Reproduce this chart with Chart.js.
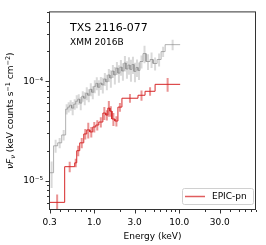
<!DOCTYPE html>
<html><head><meta charset="utf-8">
<script src="https://cdn.jsdelivr.net/npm/chart.js@4.4.0/dist/chart.umd.min.js"></script>
<style>html,body{margin:0;padding:0;background:#fff;overflow:hidden}</style>
</head><body>
<canvas id="c" width="266" height="245"></canvas>
<script>
// ---- data (energies in keV, nuFnu in keV counts s^-1 cm^-2) ----
const grayEdges = [0.300,0.334,0.373,0.416,0.463,0.489,0.516,0.545,0.576,0.608,0.642,0.678,0.716,0.756,0.798,0.843,0.890,0.939,0.992,1.047,1.106,1.168,1.233,1.302,1.374,1.451,1.532,1.618,1.708,1.804,1.905,2.011,2.123,2.242,2.367,2.500,2.639,2.787,2.942,3.107,3.280,3.464,3.758,4.077,4.546,4.932,5.500,6.132,6.835,10.27];
const grayFlux = [1.20e-5,2.24e-5,2.40e-5,2.88e-5,5.25e-5,5.50e-5,5.75e-5,5.37e-5,5.89e-5,6.31e-5,6.61e-5,6.03e-5,7.08e-5,6.76e-5,7.59e-5,7.24e-5,8.32e-5,7.76e-5,8.91e-5,9.55e-5,8.71e-5,9.6e-5,9.2e-5,1.056e-4,9.9e-5,1.16e-4,1.08e-4,1.27e-4,1.16e-4,1.36e-4,1.21e-4,1.39e-4,1.27e-4,1.53e-4,1.33e-4,1.46e-4,1.32e-4,1.479e-4,1.259e-4,1.380e-4,1.288e-4,1.585e-4,1.905e-4,1.585e-4,1.660e-4,1.514e-4,1.660e-4,1.995e-4,2.344e-4];
const grayErr = [0.3,0.15,0.12,0.12,0.12,0.12,0.12,0.15,0.12,0.15,0.12,0.15,0.12,0.15,0.15,0.15,0.15,0.15,0.15,0.15,0.18,0.15,0.18,0.15,0.18,0.15,0.2,0.15,0.2,0.15,0.2,0.18,0.2,0.18,0.2,0.2,0.25,0.2,0.22,0.2,0.2,0.15,0.2,0.18,0.18,0.15,0.15,0.12,0.12];

const redEdges = [0.300,0.451,0.592,0.625,0.678,0.756,0.820,0.890,0.965,1.047,1.136,1.267,1.374,1.451,1.532,1.618,1.755,1.905,2.124,3.28,3.97,5.21,10.27];
const redFlux = [6.03e-6,1.38e-5,1.51e-5,2.00e-5,2.40e-5,2.95e-5,3.24e-5,3.09e-5,3.47e-5,3.63e-5,3.89e-5,4.79e-5,4.57e-5,5.37e-5,5.01e-5,4.17e-5,3.98e-5,5.50e-5,6.76e-5,7.24e-5,7.94e-5,9.33e-5];
const redErr = [0.2,0.12,0.1,0.12,0.12,0.12,0.18,0.12,0.12,0.12,0.12,0.15,0.12,0.18,0.12,0.15,0.12,0.1,0.1,0.12,0.1,0.16];

const xMajorTicks = [0.3,1,3,10,30];
const xTickLabels = ['0.3','1.0','3.0','10.0','30.0'];
const xMinorTicks = [0.4,0.5,0.6,0.7,0.8,0.9,2,4,5,6,7,8,9,20,40,50,60,70,80];
const yMajorTicks = [1e-5,1e-4];
const yTickLabels = ['10\u207B\u2075','10\u207B\u2074'];
const yMinorTicks = [6e-6,7e-6,8e-6,9e-6,2e-5,3e-5,4e-5,5e-5,6e-5,7e-5,8e-5,9e-5,2e-4,3e-4,4e-4,5e-4];

const xRange = [0.295, 80];
const yRange = [5.05e-6, 5.07e-4];
const titleText = 'TXS 2116-077';
const subtitleText = 'XMM 2016B';
const legendText = 'EPIC-pn';
const xLabel = 'Energy (keV)';

function steps(edges, flux){
  const pts=[];
  for(let i=0;i<flux.length;i++){pts.push({x:edges[i],y:flux[i]});pts.push({x:edges[i+1],y:flux[i]});}
  return pts;
}

const FONT='"DejaVu Sans", sans-serif';
const RED='#d62728';

const errPlugin = {
  id:'errs',
  beforeDatasetsDraw(chart){
    const {ctx, scales:{x,y}, chartArea:a} = chart;
    ctx.save();
    ctx.beginPath(); ctx.rect(a.left,a.top,a.right-a.left,a.bottom-a.top); ctx.clip();
    const draw=(edges,flux,err,col)=>{
      ctx.strokeStyle=col; ctx.lineWidth=2;
      for(let i=0;i<flux.length;i++){
        const xc = x.getPixelForValue(Math.sqrt(edges[i]*edges[i+1]));
        ctx.beginPath();
        ctx.moveTo(xc, y.getPixelForValue(flux[i]*(1+err[i])));
        ctx.lineTo(xc, y.getPixelForValue(flux[i]*(1-err[i])));
        ctx.stroke();
      }
    };
    draw(grayEdges,grayFlux,grayErr,'rgba(160,160,160,0.4)');
    draw(redEdges,redFlux,redErr,'rgba(214,39,40,0.5)');
    ctx.restore();
  }
};

const framePlugin = {
  id:'frame',
  afterDraw(chart){
    const {ctx, scales:{x,y}, chartArea:a} = chart;
    ctx.save();
    ctx.strokeStyle='#333'; ctx.lineWidth=1;
    ctx.strokeRect(a.left+0.5,a.top+0.5,a.right-a.left-1,a.bottom-a.top-1);
    ctx.beginPath();
    const xt=(v,len)=>{const p=Math.round(x.getPixelForValue(v))+0.5; ctx.moveTo(p,a.bottom); ctx.lineTo(p,a.bottom+len);};
    const yt=(v,len)=>{const p=Math.round(y.getPixelForValue(v))+0.5; ctx.moveTo(a.left,p); ctx.lineTo(a.left-len,p);};
    xMajorTicks.forEach(v=>xt(v,3.5)); xMinorTicks.forEach(v=>xt(v,2));
    yMajorTicks.forEach(v=>yt(v,3.5)); yMinorTicks.forEach(v=>yt(v,2));
    ctx.stroke();
    // texts
    ctx.fillStyle='#000'; ctx.textBaseline='alphabetic'; ctx.textAlign='left';
    ctx.font='11px '+FONT; ctx.fillText(titleText,70,31);
    ctx.font='9px '+FONT; ctx.fillText(subtitleText,70,44.5);
    ctx.textAlign='center'; ctx.font='9px '+FONT;
    ctx.fillText(xLabel,(a.left+a.right)/2,239);
    // y label with sub/superscripts
    const parts=[
      {t:'\u03BDF',f:'italic 9px '+FONT,dy:0},
      {t:'\u03BD',f:'italic 6.5px '+FONT,dy:2},
      {t:' (keV counts s',f:'9px '+FONT,dy:0},
      {t:'\u22121',f:'6.5px '+FONT,dy:-3.5},
      {t:' cm',f:'9px '+FONT,dy:0},
      {t:'\u22122',f:'6.5px '+FONT,dy:-3.5},
      {t:')',f:'9px '+FONT,dy:0}
    ];
    let w=0; parts.forEach(p=>{ctx.font=p.f; p.w=ctx.measureText(p.t).width; w+=p.w;});
    ctx.translate(13,(a.top+a.bottom)/2); ctx.rotate(-Math.PI/2);
    ctx.textAlign='left';
    let cx=-w/2; parts.forEach(p=>{ctx.font=p.f; ctx.fillText(p.t,cx,p.dy); cx+=p.w;});
    ctx.setTransform(1,0,0,1,0,0);
    // legend
    const lx=182.5, ly=188.5, lw=71, lh=16, r=2;
    ctx.beginPath();
    ctx.moveTo(lx+r,ly); ctx.lineTo(lx+lw-r,ly); ctx.quadraticCurveTo(lx+lw,ly,lx+lw,ly+r);
    ctx.lineTo(lx+lw,ly+lh-r); ctx.quadraticCurveTo(lx+lw,ly+lh,lx+lw-r,ly+lh);
    ctx.lineTo(lx+r,ly+lh); ctx.quadraticCurveTo(lx,ly+lh,lx,ly+lh-r);
    ctx.lineTo(lx,ly+r); ctx.quadraticCurveTo(lx,ly,lx+r,ly); ctx.closePath();
    ctx.fillStyle='rgba(255,255,255,0.85)'; ctx.fill();
    ctx.strokeStyle='#d0d0d0'; ctx.lineWidth=1; ctx.stroke();
    ctx.beginPath(); ctx.moveTo(185,196.5); ctx.lineTo(205,196.5);
    ctx.strokeStyle='rgba(214,39,40,0.75)'; ctx.lineWidth=1.5; ctx.stroke();
    ctx.fillStyle='#000'; ctx.font='9px '+FONT; ctx.textAlign='left'; ctx.textBaseline='middle';
    ctx.fillText(legendText,212,197);
    ctx.restore();
  }
};

new Chart(document.getElementById('c'),{
  type:'line',
  data:{datasets:[
    {data:steps(grayEdges,grayFlux),borderColor:'rgba(135,135,135,0.65)',borderWidth:1,pointRadius:0,fill:false,tension:0},
    {data:steps(redEdges,redFlux),borderColor:RED,borderWidth:1,pointRadius:0,fill:false,tension:0}
  ]},
  options:{
    responsive:false,animation:false,devicePixelRatio:1,
    layout:{padding:{left:0,right:10,top:10,bottom:0}},
    plugins:{legend:{display:false},tooltip:{enabled:false}},
    scales:{
      x:{type:'logarithmic',min:xRange[0],max:xRange[1],
        afterBuildTicks:s=>{s.ticks=xMajorTicks.map(v=>({value:v}));},
        afterFit:s=>{s.height=35;},
        grid:{display:false,drawTicks:false},border:{display:false},
        ticks:{autoSkip:false,maxRotation:0,padding:7,color:'#000',font:{family:FONT,size:9},
          callback:(v,i)=>xTickLabels[i]}},
      y:{type:'logarithmic',min:yRange[0],max:yRange[1],
        afterBuildTicks:s=>{s.ticks=yMajorTicks.map(v=>({value:v}));},
        afterFit:s=>{s.width=49;},
        grid:{display:false,drawTicks:false},border:{display:false},
        ticks:{autoSkip:false,padding:6,color:'#000',font:{family:FONT,size:9},
          callback:(v,i)=>yTickLabels[i]}}
    }
  },
  plugins:[errPlugin,framePlugin]
});
</script>
</body></html>
